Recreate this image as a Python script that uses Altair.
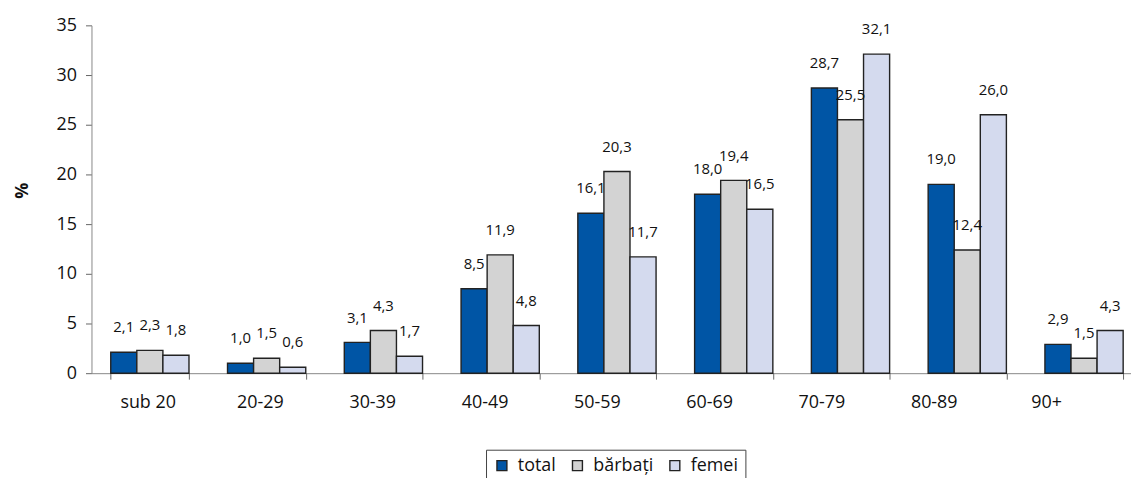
import altair as alt
import pandas as pd

categories = ["sub 20", "20-29", "30-39", "40-49", "50-59", "60-69", "70-79", "80-89", "90+"]
series = ["total", "bărbați", "femei"]
total = [2.1, 1.0, 3.1, 8.5, 16.1, 18.0, 28.7, 19.0, 2.9]
barbati = [2.3, 1.5, 4.3, 11.9, 20.3, 19.4, 25.5, 12.4, 1.5]
femei = [1.8, 0.6, 1.7, 4.8, 11.7, 16.5, 32.1, 26.0, 4.3]
y_ticks = [0, 5, 10, 15, 20, 25, 30, 35]
colors = ["#0055A5", "#D3D3D3", "#D4DAEE"]

rows = []
for name, vals in zip(series, [total, barbati, femei]):
    for c, v in zip(categories, vals):
        rows.append({"cat": c, "ser": name, "val": v, "lab": f"{v:.1f}".replace(".", ",")})
df = pd.DataFrame(rows)
cat_df = pd.DataFrame({"cat": categories})

FONT = "Open Sans"
W, H = 1046, 350

x_enc = alt.X("cat:N", sort=categories,
              scale=alt.Scale(range=[0, 1057.5], paddingInner=0.33, paddingOuter=0.165),
              axis=alt.Axis(title=None, labels=False, tickBand="extent", tickSize=6,
                            domainColor="#888", tickColor="#666"))
y_enc = alt.Y("val:Q", scale=alt.Scale(domain=[0, 35], nice=False),
              axis=alt.Axis(title="%", values=y_ticks, grid=False,
                            titleFontWeight="bold", titleFontSize=18, titleFont=FONT,
                            titleColor="#111", titleX=-60, titleY=166,
                            labelFontSize=18, labelFont=FONT, labelColor="#111",
                            domainColor="#888", tickColor="#666",
                            tickSize=6, labelPadding=9))

base = alt.Chart(df).encode(x=x_enc, xOffset=alt.XOffset("ser:N", sort=series), y=y_enc)

bars = base.mark_bar(stroke="#222", strokeWidth=1.4).encode(
    color=alt.Color("ser:N", sort=series,
                    scale=alt.Scale(domain=series, range=colors),
                    legend=alt.Legend(orient="none", legendX=397, legendY=427,
                                      direction="horizontal", title=None,
                                      strokeColor="#444", padding=7,
                                      symbolType="square", symbolSize=100,
                                      symbolStrokeColor="#222", symbolStrokeWidth=1.4,
                                      labelFontSize=18, labelFont=FONT, labelColor="#111",
                                      columnPadding=12, labelOffset=7))
)

values = base.mark_text(dy=-25, fontSize=15, font=FONT, color="#111").encode(
    text="lab:N"
)

cat_labels = alt.Chart(cat_df).mark_text(
    fontSize=18, font=FONT, color="#111", baseline="middle", dy=30
).encode(
    x=alt.X("cat:N", sort=categories, axis=None,
            scale=alt.Scale(range=[0.5, 1017.5], paddingInner=0, paddingOuter=0)),
    y=alt.datum(0),
    text="cat:N",
)

chart = alt.layer(alt.layer(bars, values), cat_labels).resolve_scale(
    x="independent"
).properties(
    width=W, height=H,
    padding={"left": 84, "top": 16, "right": 0, "bottom": 104},
    autosize=alt.AutoSizeParams(type="none"),
).configure_view(stroke=None)

chart.save("out.html", embed_options={"renderer": "svg", "actions": False})
